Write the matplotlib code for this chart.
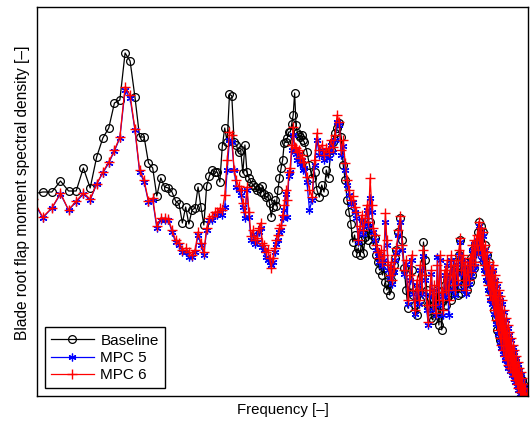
import numpy as np
import matplotlib
matplotlib.use("Agg")
import matplotlib.pyplot as plt
from matplotlib.ticker import NullLocator

plt.rcParams['font.family'] = ['Liberation Sans', 'DejaVu Sans']

# Frequency bins of the spectral estimate (bin index times resolution)
df = 0.01  # Hz
bins = np.concatenate([np.arange(13, 100), np.arange(100, 200, 2), np.arange(200, 537, 3)])
freq = bins * df

# Spectral density levels in dB (arbitrary reference)
baseline = [
    20.6, 20.8, 20.8, 21.9, 20.9, 20.9, 23.2, 21.2, 24.3, 26.2,
    27.2, 29.7, 30.0, 34.7, 33.9, 30.3, 26.3, 26.3, 23.7, 23.2,
    20.4, 22.2, 21.3, 21.2, 20.8, 19.9, 19.6, 17.7, 19.3, 17.6,
    19.0, 19.2, 21.3, 19.3, 17.5, 21.4, 22.4, 23.0, 22.8, 22.8,
    21.8, 25.4, 27.2, 25.8, 30.6, 30.4, 25.8, 25.5, 24.8, 25.0,
    22.7, 25.5, 22.8, 22.2, 21.8, 21.5, 21.3, 21.0, 21.2, 20.8,
    21.4, 20.6, 20.3, 20.4, 19.7, 18.3, 19.3, 20.0, 19.4, 21.0,
    22.2, 23.2, 24.0, 25.7, 25.8, 26.2, 26.8, 26.8, 27.6, 28.5,
    30.7, 27.5, 26.7, 26.5, 26.3, 26.5, 26.0,
    25.8, 24.8, 23.5, 22.2, 22.8, 21.0, 20.3, 21.5, 20.8, 23.0,
    22.2, 25.0, 25.8, 26.7, 27.2, 27.7, 26.3, 23.5, 22.0, 20.0,
    18.8, 17.6, 15.8, 16.5, 14.7, 15.2, 14.5, 16.0, 14.7, 16.3,
    17.2, 16.0, 17.8, 16.5, 15.5, 16.2, 14.5, 13.8, 13.0, 13.7,
    12.5, 13.2, 11.8, 11.0, 11.6, 10.5, 12.0, 12.8, 13.5, 14.2,
    15.0, 16.8, 18.2, 16.0, 13.2, 11.0, 9.2, 11.5, 13.0, 10.5,
    9.5, 8.5, 11.0, 10.0, 12.5, 15.8, 14.0, 11.0, 9.5, 10.2,
    8.2, 8.0, 10.0, 8.8, 11.0, 7.5, 9.5, 7.0, 10.0, 11.5,
    9.5, 12.0, 10.5, 13.0, 10.0, 11.5, 13.8, 11.0, 12.8, 10.5,
    14.5, 16.0, 10.7, 13.0, 11.5, 13.8, 12.0, 11.0, 13.0, 11.8,
    14.2, 12.5, 15.0, 13.2, 15.5, 14.2, 16.8, 17.8, 16.0, 17.4,
    15.0, 16.8, 13.8, 15.5, 13.0, 14.5, 12.0, 13.8, 11.0, 12.5,
    10.0, 11.5, 9.0, 10.5, 8.2, 7.0, 8.8, 6.5, 7.8, 6.0,
    7.2, 5.5, 6.5, 5.2, 6.0, 4.8, 5.5, 4.5, 5.0, 4.2,
    4.8, 3.8, 4.4, 3.5, 4.0, 3.2, 3.7, 2.8, 3.2, 2.3,
    2.8, 2.0, 2.4, 1.6, 2.0, 1.2, 1.6, 0.8, 1.1, 0.4,
    0.7, 0.2, -0.1,
]

mpc5 = [
    20.0, 18.2, 19.2, 20.6, 19.0, 19.8, 20.6, 20.0, 21.6, 22.7,
    23.7, 24.9, 26.2, 31.0, 30.2, 27.0, 22.8, 21.8, 19.8, 20.0,
    17.2, 18.0, 18.0, 18.0, 16.8, 15.8, 15.5, 14.8, 14.8, 14.3,
    14.3, 14.8, 16.5, 15.5, 14.5, 17.0, 18.0, 18.0, 18.5, 18.5,
    18.8, 18.5, 19.3, 23.0, 26.0, 25.8, 23.0, 21.3, 21.0, 20.5,
    19.3, 18.2, 21.0, 18.3, 16.0, 16.6, 15.6, 15.8, 16.8, 17.2,
    15.3, 15.0, 14.3, 14.0, 13.8, 13.5, 13.8, 14.8, 15.6, 16.0,
    16.8, 17.0, 18.2, 19.0, 20.6, 18.3, 22.4, 22.8, 25.0, 26.5,
    25.0, 24.6, 24.0, 24.6, 23.6, 24.0, 23.0,
    23.2, 21.8, 19.0, 20.0, 23.5, 26.0, 24.5, 25.0, 24.0, 24.6,
    24.2, 25.5, 24.8, 26.0, 27.8, 27.5, 24.5, 25.4, 23.0, 21.5,
    20.5, 19.6, 19.8, 18.8, 18.2, 15.8, 17.0, 18.0, 16.6, 17.6,
    19.0, 17.4, 20.2, 18.8, 16.8, 16.0, 15.0, 14.4, 13.8, 14.5,
    13.4, 14.0, 17.8, 15.5, 13.0, 12.2, 13.4, 11.6, 12.8, 14.0,
    14.8, 16.5, 17.8, 15.0, 12.6, 13.6, 9.6, 12.0, 14.0, 10.6,
    8.6, 11.5, 9.6, 13.0, 10.6, 14.4, 12.0, 9.0, 7.5, 10.5,
    12.6, 9.0, 11.0, 8.5, 14.3, 9.5, 14.0, 10.4, 8.5, 12.5,
    10.5, 13.5, 8.5, 12.0, 14.0, 11.0, 13.0, 10.5, 13.6, 11.6,
    14.5, 15.8, 12.6, 14.0, 11.0, 13.4, 10.6, 13.0, 11.6, 13.8,
    12.4, 15.0, 13.0, 15.6, 13.4, 16.0, 14.6, 17.4, 15.0, 16.8,
    14.0, 16.4, 13.0, 15.0, 12.0, 14.4, 11.0, 13.4, 10.0, 12.6,
    9.6, 13.0, 8.6, 12.0, 7.6, 11.4, 6.6, 10.6, 5.8, 10.0,
    5.2, 9.6, 4.6, 8.8, 4.0, 8.0, 3.6, 7.2, 3.2, 6.5,
    2.9, 6.0, 2.5, 5.3, 2.1, 4.8, 1.8, 4.2, 1.4, 3.6,
    1.0, 3.0, 0.6, 2.6, 0.2, 2.0, 0.0, 1.4, -0.3, 1.0,
    -0.5, 0.5, -0.7,
]

mpc6 = [
    20.1, 18.3, 19.2, 20.7, 19.0, 19.9, 20.7, 20.1, 21.6, 22.8,
    23.8, 25.0, 26.3, 31.3, 30.5, 27.1, 23.0, 22.0, 19.9, 20.2,
    17.4, 18.2, 18.2, 18.1, 17.0, 16.0, 15.7, 15.0, 15.2, 14.8,
    14.5, 15.0, 16.8, 15.7, 14.8, 17.2, 18.2, 18.4, 18.8, 18.8,
    19.2, 19.0, 20.5, 24.0, 26.8, 26.5, 23.0, 22.0, 21.4, 21.0,
    19.7, 18.8, 21.3, 18.8, 16.4, 17.0, 16.0, 16.2, 17.2, 17.7,
    15.7, 15.5, 14.8, 15.0, 14.2, 13.2, 14.2, 15.2, 16.0, 16.5,
    17.2, 17.5, 18.5, 19.5, 21.0, 20.0, 22.8, 23.2, 25.5, 27.3,
    25.3, 25.2, 24.8, 25.0, 24.2, 24.5, 23.8,
    23.8, 22.3, 21.0, 20.3, 24.0, 26.7, 25.0, 25.5, 24.5, 25.2,
    24.8, 26.0, 25.3, 26.5, 28.5, 27.8, 25.0, 26.0, 23.7, 22.0,
    21.0, 20.0, 20.4, 19.3, 18.8, 16.0, 17.4, 18.5, 17.0, 18.2,
    19.5, 17.8, 22.2, 19.5, 17.2, 16.5, 15.5, 14.8, 14.2, 15.0,
    13.8, 14.5, 18.7, 16.0, 13.5, 12.5, 13.8, 12.0, 13.2, 14.5,
    15.2, 17.0, 18.4, 15.5, 13.0, 14.0, 10.0, 12.5, 14.5, 11.0,
    9.0, 12.0, 10.0, 13.5, 11.0, 15.0, 12.5, 9.5, 7.8, 11.0,
    13.0, 9.5, 11.5, 8.7, 13.5, 10.0, 14.5, 10.8, 9.0, 13.0,
    11.0, 14.0, 10.0, 12.5, 14.5, 11.5, 13.5, 11.0, 14.0, 12.0,
    15.0, 16.2, 13.0, 14.5, 11.5, 13.8, 11.0, 13.5, 12.0, 14.2,
    12.8, 15.5, 13.5, 16.0, 13.8, 16.5, 15.0, 17.8, 15.5, 17.2,
    14.5, 16.8, 13.5, 15.5, 12.5, 14.8, 11.5, 13.8, 10.5, 13.0,
    10.0, 13.5, 9.0, 12.5, 8.0, 11.8, 7.0, 11.0, 6.2, 10.4,
    5.5, 10.0, 5.0, 9.0, 4.4, 8.2, 4.0, 7.5, 3.5, 6.8,
    3.2, 6.2, 2.8, 5.5, 2.4, 5.0, 2.0, 4.4, 1.6, 3.8,
    1.2, 3.2, 0.8, 2.8, 0.4, 2.2, 0.1, 1.6, -0.2, 1.2,
    -0.4, 0.7, -0.6,
]

series_labels = ["Baseline", "MPC 5", "MPC 6"]

fig = plt.figure(figsize=(5.30, 4.22), dpi=100)
ax = fig.add_axes([37 / 530, 26 / 422, 491 / 530, 389 / 422])

asterisk = (6, 2, 0)
ax.plot(freq, baseline, color="black", lw=0.9, marker="o", ms=5.6,
        mfc="none", mec="black", mew=0.9, label=series_labels[0])
ax.plot(freq, mpc5, color="blue", lw=0.9, marker=asterisk, ms=5.6,
        mec="blue", mew=0.9, label=series_labels[1])
ax.plot(freq, mpc6, color="red", lw=0.9, marker="+", ms=6.6,
        mec="red", mew=1.0, label=series_labels[2])

ax.set_xscale("log")
ax.set_xlim(13.41 * df, 537.5 * df)
ax.set_ylim(0.4, 39.3)

for axis in (ax.xaxis, ax.yaxis):
    axis.set_major_locator(NullLocator())
    axis.set_minor_locator(NullLocator())
for sp in ax.spines.values():
    sp.set_linewidth(1.0)
    sp.set_color("black")

ax.set_xlabel("Frequency [–]", fontsize=10.8, labelpad=5)
ax.set_ylabel("Blade root flap moment spectral density [–]", fontsize=11.2)
ax.yaxis.set_label_coords(-0.014, 0.522)

leg = ax.legend(loc="lower left", fontsize=11, handlelength=2.8,
                borderaxespad=0.5, labelspacing=0.22, handletextpad=0.45,
                borderpad=0.4, fancybox=False, framealpha=1, edgecolor="black")
leg.get_frame().set_linewidth(1.0)

fig.savefig("out.png", dpi=100)
